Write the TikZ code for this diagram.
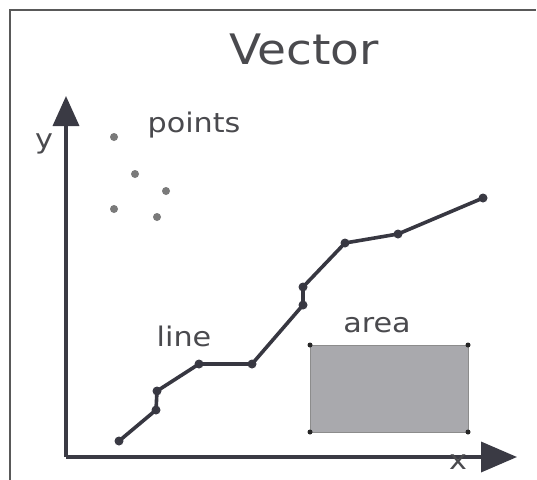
\documentclass[tikz,border=0pt]{standalone}
\usepackage{fontspec}
\newfontfamily\comicfont[FakeStretch=1.12]{DejaVu Sans}
\usetikzlibrary{arrows.meta}
\definecolor{ink}{HTML}{3A3A44}
\definecolor{txt}{HTML}{4A4A4E}
\definecolor{ptgray}{HTML}{7A7A7A}
\definecolor{areagray}{HTML}{A9A9AD}
\begin{document}
\begin{tikzpicture}[x=1pt,y=-1pt,
  lbl/.style={font=\comicfont\fontsize{27}{30}\selectfont, text=txt, inner sep=0pt},
  axis/.style={draw=ink, line width=3.6pt},
  vdot/.style={circle, fill=ink, inner sep=0pt, minimum size=9pt},
  pdot/.style={circle, fill=ptgray, inner sep=0pt, minimum size=8pt},
  cdot/.style={circle, fill=black!85, inner sep=0pt, minimum size=5pt},
  seg/.style={draw=ink!95!black, line width=3.6pt, line join=round}]
\useasboundingbox (0,0) rectangle (537,479);
\fill[white] (0,0) rectangle (537,479);
% frame
\draw[draw=black!65, line width=2pt] (10,490) -- (10,10) -- (536,10);
% title
\node[lbl, font=\comicfont\fontsize{42}{46}\selectfont] (title) at (304,49) {Vector};
% axes
\coordinate (O) at (66,457);
\coordinate (ytip) at (66,96);
\coordinate (xtip) at (517,457);
\draw[axis, -{Triangle[length=30pt,width=26pt]}] (O) -- (ytip);
\draw[axis, -{Triangle[length=36pt,width=30pt]}] (O) -- (xtip);
\node[lbl] (ylab) at (44,144) {y};
\node[lbl] (xlab) at (458,462) {x};
% points
\node[lbl] (ptslab) at (194,125) {points};
\node[pdot] (p1) at (114,137) {};
\node[pdot] (p2) at (135,174) {};
\node[pdot] (p3) at (166,191) {};
\node[pdot] (p4) at (114,209) {};
\node[pdot] (p5) at (157,217) {};
% line
\node[lbl] (linelab) at (184,336) {line};
\node[vdot] (l1) at (119,441) {};
\node[vdot] (l2) at (156,410) {};
\node[vdot] (l3) at (157,391) {};
\node[vdot] (l4) at (199,364) {};
\node[vdot] (l5) at (252,364) {};
\node[vdot] (l6) at (303,305) {};
\node[vdot] (l7) at (303,287) {};
\node[vdot] (l8) at (345,243) {};
\node[vdot] (l9) at (398,234) {};
\node[vdot] (l10) at (483,198) {};
\draw[seg] (l1.center) -- (l2.center) -- (l3.center) -- (l4.center) -- (l5.center) -- (l6.center) -- (l7.center) -- (l8.center) -- (l9.center) -- (l10.center);
% area
\node[lbl] (arealab) at (377,325) {area};
\coordinate (a1) at (310,345);
\coordinate (a2) at (468,345);
\coordinate (a3) at (468,432);
\coordinate (a4) at (310,432);
\fill[areagray] (a1) -- (a2) -- (a3) -- (a4) -- cycle;
\draw[draw=black!45, line width=0.8pt] (a1) -- (a2) -- (a3) -- (a4) -- cycle;
\node[cdot] (c1) at (a1) {};
\node[cdot] (c2) at (a2) {};
\node[cdot] (c3) at (a3) {};
\node[cdot] (c4) at (a4) {};
\end{tikzpicture}
\end{document}
